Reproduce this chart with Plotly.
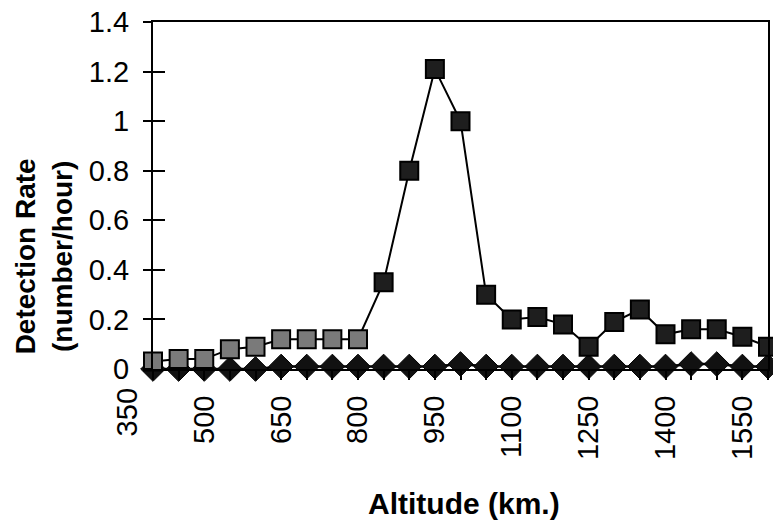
import plotly.graph_objects as go

# ---- data ----
altitude = [400, 450, 500, 550, 600, 650, 700, 750, 800, 850, 900, 950, 1000,
            1050, 1100, 1150, 1200, 1250, 1300, 1350, 1400, 1450, 1500, 1550, 1600]
rate_a = [0.03, 0.04, 0.04, 0.08, 0.09, 0.12, 0.12, 0.12, 0.12, 0.35, 0.80, 1.21, 1.00,
          0.30, 0.20, 0.21, 0.18, 0.09, 0.19, 0.24, 0.14, 0.16, 0.16, 0.13, 0.09]
rate_b = [0.00, 0.00, 0.00, 0.00, 0.00, 0.01, 0.01, 0.01, 0.01, 0.01, 0.01, 0.01, 0.02,
          0.01, 0.01, 0.01, 0.01, 0.01, 0.01, 0.01, 0.01, 0.02, 0.02, 0.01, 0.01]
x_tick_labels = ["350", "500", "650", "800", "950", "1100", "1250", "1400", "1550"]
x_tick_values = [350, 500, 650, 800, 950, 1100, 1250, 1400, 1550]
y_tick_values = [0, 0.2, 0.4, 0.6, 0.8, 1.0, 1.2, 1.4]
y_tick_labels = ["0", "0.2", "0.4", "0.6", "0.8", "1", "1.2", "1.4"]

W, H = 773, 520
ML, MR, MT, MB = 153, 3, 22, 151
XR = [400, 1600]
YR = [0, 1.4]
FONT = "Liberation Sans, Arial, sans-serif"

def px2paper_x(px):
    return (px - ML) / (W - ML - MR)

def px2paper_y(py):
    return (H - MB - py) / (H - MT - MB)

sq_colors = ["#7a7a7a" if a <= 800 else "#1e1e1e" for a in altitude]

fig = go.Figure()
fig.add_trace(go.Scatter(
    x=altitude, y=rate_b, mode="lines+markers",
    line=dict(color="black", width=2.5),
    marker=dict(symbol="diamond", size=19, color="#111111",
                line=dict(color="black", width=1)),
    cliponaxis=False, showlegend=False))
fig.add_trace(go.Scatter(
    x=altitude, y=rate_a, mode="lines+markers",
    line=dict(color="black", width=2),
    marker=dict(symbol="square", size=18, color=sq_colors,
                line=dict(color="black", width=2)),
    cliponaxis=False, showlegend=False))
# invisible trace to anchor inside-tick overlay axis
fig.add_trace(go.Scatter(x=[altitude[0]], y=[0], yaxis="y2", mode="markers",
                         marker=dict(opacity=0), showlegend=False, hoverinfo="skip"))

visible_ticks = [v for v in x_tick_values if XR[0] <= v <= XR[1]]
visible_labels = [l for v, l in zip(x_tick_values, x_tick_labels) if XR[0] <= v <= XR[1]]

fig.update_layout(
    width=W, height=H,
    margin=dict(l=ML, r=MR, t=MT, b=MB, pad=0),
    paper_bgcolor="white", plot_bgcolor="white",
    font=dict(family=FONT, size=29, color="black"),
    xaxis=dict(range=XR, tickmode="array", tickvals=visible_ticks, ticktext=visible_labels,
               tickangle=-90, ticks="outside", ticklen=9, tickwidth=2, tickcolor="black",
               minor=dict(tickmode="linear", tick0=350, dtick=50, ticks="outside",
                          ticklen=9, tickwidth=2, tickcolor="black"),
               showline=True, linecolor="black", linewidth=2, mirror=True,
               showgrid=False, zeroline=False, ticklabelstandoff=4,
               tickfont=dict(size=29, family=FONT)),
    yaxis=dict(range=YR, tickmode="array", tickvals=y_tick_values, ticktext=y_tick_labels,
               ticks="outside", ticklen=8, tickwidth=2, tickcolor="black",
               showline=True, linecolor="black", linewidth=2, mirror=True,
               showgrid=False, zeroline=False, ticklabelstandoff=8,
               tickfont=dict(size=29, family=FONT)),
    yaxis2=dict(range=YR, overlaying="y", side="left", tickmode="array",
                tickvals=y_tick_values, ticks="inside", ticklen=12, tickwidth=2,
                tickcolor="black", showticklabels=False, showline=False,
                showgrid=False, zeroline=False),
)

# category label left of the visible axis range ("350")
x350 = (x_tick_values[0] - XR[0]) / (XR[1] - XR[0])
fig.add_annotation(text=x_tick_labels[0], xref="paper", yref="paper",
                   x=x350, y=px2paper_y(386), xanchor="center", yanchor="top",
                   textangle=-90, showarrow=False, font=dict(size=29, family=FONT))

# axis titles
fig.add_annotation(text="<b>Altitude (km.)</b>", xref="paper", yref="paper",
                   x=px2paper_x(465), y=px2paper_y(503), xanchor="center", yanchor="middle",
                   showarrow=False, font=dict(size=30, family=FONT))
fig.add_annotation(text="<b>Detection Rate<br>(number/hour)</b>", xref="paper", yref="paper",
                   x=px2paper_x(43), y=px2paper_y(256), xanchor="center", yanchor="middle",
                   textangle=-90, showarrow=False, font=dict(size=28, family=FONT))

fig.write_html("out.html")
